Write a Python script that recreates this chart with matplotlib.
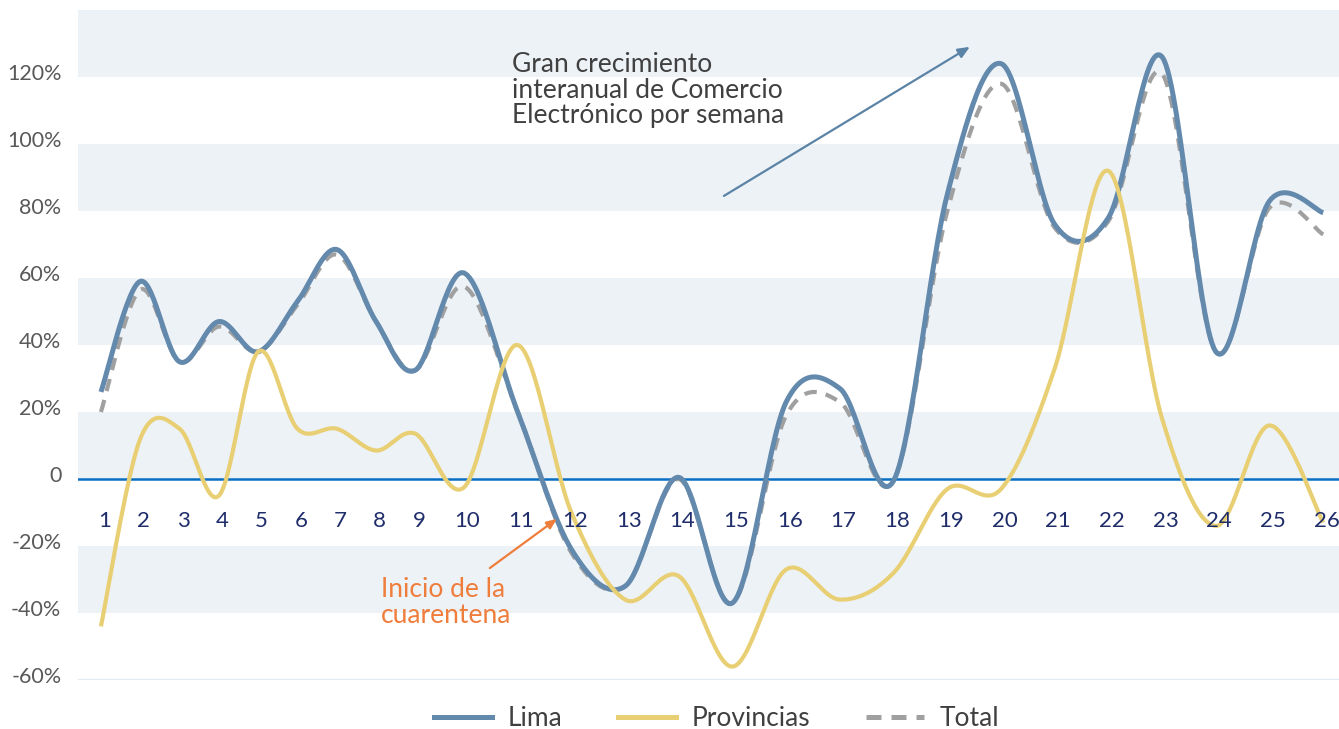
import numpy as np
import matplotlib
matplotlib.use("Agg")
import matplotlib.pyplot as plt
import matplotlib.transforms as mtransforms
from matplotlib.lines import Line2D

plt.rcParams['font.family'] = ['Lato', 'DejaVu Sans']

# ---- data ----
weeks = list(range(1, 27))
week_labels = [str(w) for w in weeks]
lima = [26, 59, 35, 47, 38, 53, 68.5, 47, 32.5, 61.5, 20, -21, -32, 0.5, -37,
        23, 27, -0.5, 85, 124, 76, 78, 126, 38, 83, 79.5]
provincias = [-44, 12, 15, -5, 38, 15, 15, 8.5, 13.5, -2.5, 40, -10, -36, -29, -56,
              -27, -36, -28, -3, -3, 33, 92, 18, -14, 16, -13]
total = [20, 56.5, 35, 45.5, 38, 52, 67, 47, 32.5, 57.5, 20, -22, -32, 0, -37,
         19, 23, -0.5, 80, 118, 75, 77, 121, 38, 81, 73]
y_ticks = [-60, -40, -20, 0, 20, 40, 60, 80, 100, 120]
y_tick_labels = ['-60%', '-40%', '-20%', '0', '20%', '40%', '60%', '80%', '100%', '120%']

# horizontal placement: the first nine weeks are drawn closer together
w = np.array(weeks, dtype=float)
xpos = np.where(w >= 10, w, 9.095 - (9 - w) * 0.732)


def smooth(x, y, n=30):
    """Excel-style smoothed line (Catmull-Rom as cubic Bezier)."""
    P = np.column_stack([x, y]).astype(float)
    P = np.vstack([P[0], P, P[-1]])
    out = []
    t = np.linspace(0, 1, n)
    for i in range(1, len(P) - 2):
        p0, p1, p2, p3 = P[i - 1], P[i], P[i + 1], P[i + 2]
        b0 = p1
        b1 = p1 + (p2 - p0) / 6
        b2 = p2 - (p3 - p1) / 6
        b3 = p2
        seg = ((1 - t)[:, None] ** 3 * b0 + 3 * ((1 - t) ** 2 * t)[:, None] * b1
               + 3 * ((1 - t) * t ** 2)[:, None] * b2 + (t ** 3)[:, None] * b3)
        out.append(seg if i == 1 else seg[1:])
    s = np.vstack(out)
    return s[:, 0], s[:, 1]


fig = plt.figure(figsize=(13.39, 7.29), dpi=100)
ax = fig.add_axes([78 / 1339, 1 - 680 / 729, 1 - 78 / 1339, (680 - 10) / 729])
ax.set_xlim(2.812, 26.294)
ax.set_ylim(-60, 140)

# background bands
for lo in [120, 80, 40, 0, -40]:
    ax.axhspan(lo, lo + 20, color='#edf2f7', lw=0, zorder=0)
ax.axhline(-60, color='#e4eaf1', lw=1.6, zorder=1)
ax.axhline(0, color='#0a6fc2', lw=1.8, zorder=2)

c_lima = '#6389ad'
c_prov = '#e9cf74'
c_total = '#a0a0a0'

xs, ys = smooth(xpos, total)
ax.plot(xs, ys, color=c_total, lw=3.0, dashes=(3, 2.2), zorder=3, solid_capstyle='butt')
xs, ys = smooth(xpos, lima)
ax.plot(xs, ys, color=c_lima, lw=3.6, zorder=4, solid_capstyle='butt')
xs, ys = smooth(xpos, provincias)
ax.plot(xs, ys, color=c_prov, lw=3.0, zorder=5, solid_capstyle='butt')

# week labels inside the plot
for xp, lab in zip(xpos, week_labels):
    ax.text(xp + 0.065, -12.5, lab, ha='center', va='center', fontsize=16,
            color='#1f2d6b', zorder=6)

ax.set_yticks(y_ticks)
ax.set_yticklabels(y_tick_labels)
ax.tick_params(axis='y', length=0, pad=12, labelsize=15.5, labelcolor='#595959')
ax.set_xticks([])
for sp in ax.spines.values():
    sp.set_visible(False)
offs = mtransforms.ScaledTranslation(0, 5 / 100, fig.dpi_scale_trans)
for lbl in ax.get_yticklabels():
    lbl.set_transform(lbl.get_transform() + offs)

# annotations
ax.annotate('', xy=(19.42, 129), xytext=(14.84, 84.5),
            arrowprops=dict(arrowstyle='-|>,head_length=0.7,head_width=0.3',
                            color='#5b83a6', lw=1.6, shrinkA=0, shrinkB=0), zorder=6)
ax.text(10.894, 116.0, 'Gran crecimiento\ninteranual de Comercio\nElectrónico por semana',
        ha='left', va='center', fontsize=19, color='#404040', linespacing=1.03, zorder=6)

ax.annotate('', xy=(11.73, -11.9), xytext=(10.48, -26.6),
            arrowprops=dict(arrowstyle='-|>,head_length=0.6,head_width=0.25',
                            color='#ef7d3c', lw=1.6, shrinkA=0, shrinkB=0), zorder=6)
ax.text(8.455, -36.8, 'Inicio de la\ncuarentena', ha='left', va='center', fontsize=19,
        color='#ef7d3c', linespacing=1.05, zorder=6)

handles = [Line2D([], [], color=c_lima, lw=3.6),
           Line2D([], [], color=c_prov, lw=3.6),
           Line2D([], [], color=c_total, lw=3.6, dashes=(3, 2))]
fig.legend(handles, ['Lima', 'Provincias', 'Total'], loc='center',
           bbox_to_anchor=(0.535, 0.014), ncol=3, frameon=False, fontsize=19,
           handlelength=2.2, handletextpad=0.6, columnspacing=2.1,
           labelcolor='#404040')

fig.savefig('out.png', dpi=100)
